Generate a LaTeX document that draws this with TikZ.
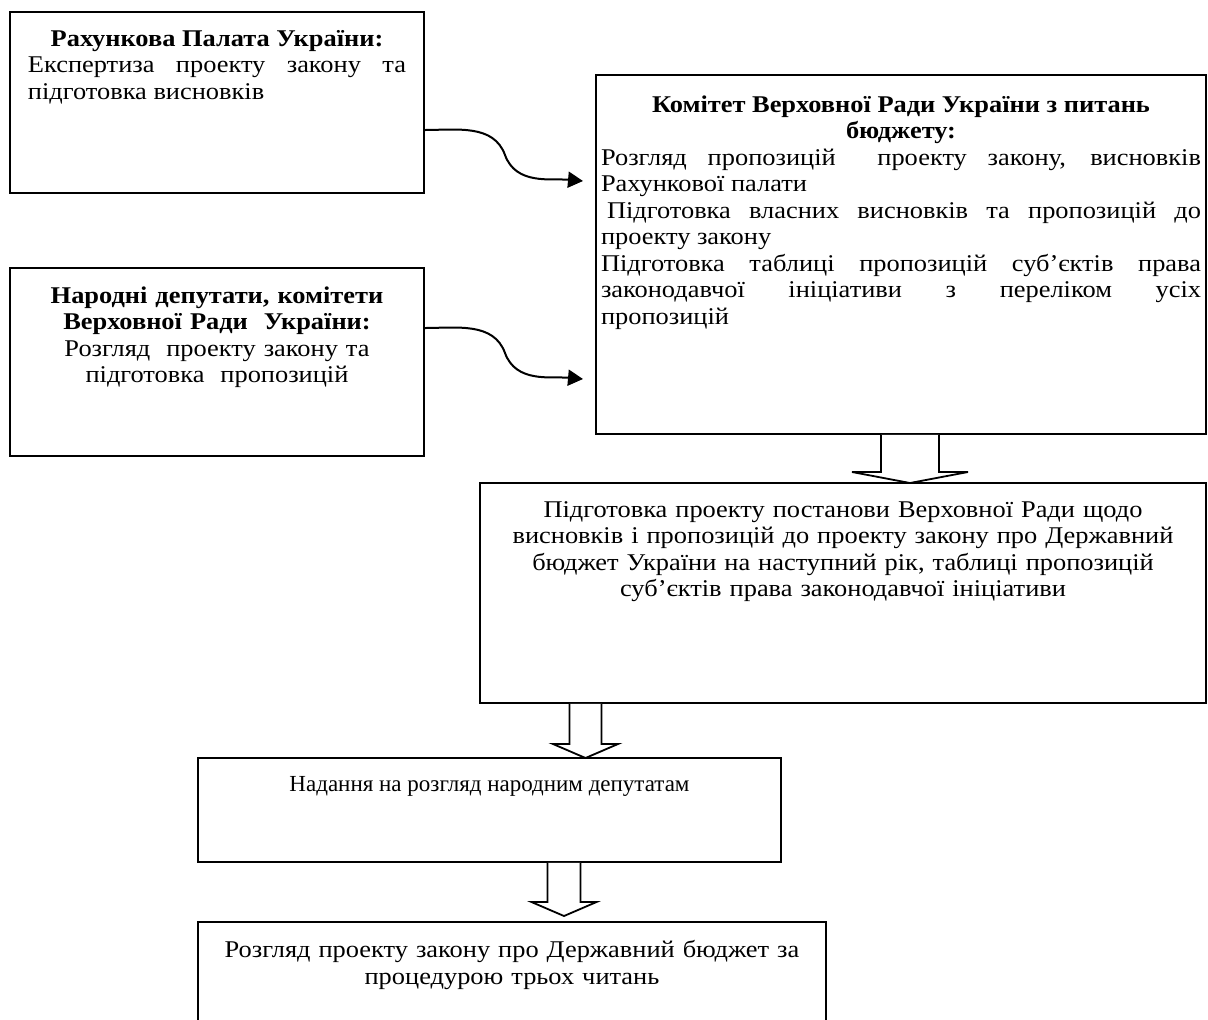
\documentclass[tikz,border=0pt]{standalone}
\usepackage{fontspec}
\setmainfont{Liberation Serif}[FakeStretch=1.1]
\newfontfamily\plainserif{Liberation Serif}
\usetikzlibrary{positioning,arrows.meta}

\begin{document}
\begin{tikzpicture}[x=0.5pt,y=-0.5pt,
  box/.style={draw, line width=0.9pt, anchor=north west, inner sep=0pt, outer sep=0pt},
  txt/.style={inner sep=0pt, font=\fontsize{12}{13.25}\selectfont},
  conn/.style={line width=1pt, -{Triangle[length=7.5pt,width=8pt]}},
  barrow/.style={draw, line width=0.9pt, fill=white, line join=miter}]
\useasboundingbox (0,0) rectangle (1208,1019);
\clip (0,0) rectangle (1208,1019);
\path (10,12) node(rp)[box, minimum width=207pt, minimum height=90.5pt]{}
  (10,268) node(nd)[box, minimum width=207pt, minimum height=94pt]{}
  (596,75) node(kom)[box, minimum width=305pt, minimum height=179.5pt]{}
  (480,483) node(post)[box, minimum width=363pt, minimum height=110pt]{}
  (198,758) node(nad)[box, minimum width=291.5pt, minimum height=52pt]{}
  (198,922) node(roz)[box, minimum width=314pt, minimum height=60pt]{};
\node[txt, text width=189pt, align=justify, below=9pt of rp.north] (rp_t)
  {{\centering\bfseries Рахункова Палата України:\par}Експертиза проекту закону та\linebreak підготовка висновків};
\node[txt, text width=189pt, align=center, below=9pt of nd.north] (nd_t)
  {\textbf{Народні депутати, комітети}\\\textbf{Верховної Ради\ \ України:}\\Розгляд\ \ проекту закону та\\підготовка\ \ пропозицій};
\node[txt, text width=300pt, align=justify, below=10pt of kom.north] (kom_t)
  {{\centering\bfseries Комітет Верховної Ради України з питань\\ бюджету:\par}Розгляд пропозицій\ \ проекту закону, висновків\linebreak Рахункової палати\par\hspace*{3pt}Підготовка власних висновків та пропозицій до\linebreak проекту закону\par Підготовка таблиці пропозицій суб’єктів права\linebreak законодавчої ініціативи з переліком усіх\linebreak пропозицій};
\node[txt, text width=350pt, align=center, below=9pt of post.north] (post_t)
  {Підготовка проекту постанови Верховної Ради щодо\\висновків і пропозицій до проекту закону про Державний\\бюджет України на наступний рік, таблиці пропозицій\\суб’єктів права законодавчої ініціативи};
\node[txt, font=\plainserif\fontsize{11.5}{13.25}\selectfont, below=9pt of nad.north] (nad_t) {Надання на розгляд народним депутатам};
\node[txt, text width=330pt, align=center, below=9pt of roz.north] (roz_t)
  {Розгляд проекту закону про Державний бюджет за\\процедурою трьох читань};
\draw[conn] ([yshift=-59pt]rp.north east) to[out=0,in=110] ++(40.5pt,-12.5pt) to[out=-70,in=175] ([shift={(-6.5pt,-53pt)}]kom.north west);
\draw[conn] ([yshift=-30pt]nd.north east) to[out=0,in=110] ++(40.5pt,-12.5pt) to[out=-70,in=175] ([shift={(-6.5pt,-152pt)}]kom.north west);
\coordinate (s1) at ([xshift=4.5pt]kom.south);
\coordinate (t1) at (s1 |- post.north);
\draw[barrow] ([shift={(-14.5pt,-0.45pt)}]s1) -- ([shift={(-14.5pt,5.5pt)}]t1) -- ([shift={(-29pt,5.5pt)}]t1) -- (t1) -- ([shift={(29pt,5.5pt)}]t1) -- ([shift={(14.5pt,5.5pt)}]t1) -- ([shift={(14.5pt,-0.45pt)}]s1);
\coordinate (t2) at ([xshift=48pt]nad.north);
\coordinate (s2) at (t2 |- post.south);
\draw[barrow] ([shift={(-8pt,-0.45pt)}]s2) -- ([shift={(-8pt,7pt)}]t2) -- ([shift={(-16.25pt,7pt)}]t2) -- (t2) -- ([shift={(16.25pt,7pt)}]t2) -- ([shift={(8pt,7pt)}]t2) -- ([shift={(8pt,-0.45pt)}]s2);
\coordinate (t3) at ([shift={(26pt,3pt)}]roz.north);
\coordinate (s3) at (t3 |- nad.south);
\draw[barrow] ([shift={(-8.25pt,-0.45pt)}]s3) -- ([shift={(-8.25pt,7pt)}]t3) -- ([shift={(-16.25pt,7pt)}]t3) -- (t3) -- ([shift={(16.25pt,7pt)}]t3) -- ([shift={(8.25pt,7pt)}]t3) -- ([shift={(8.25pt,-0.45pt)}]s3);
\end{tikzpicture}
\end{document}
